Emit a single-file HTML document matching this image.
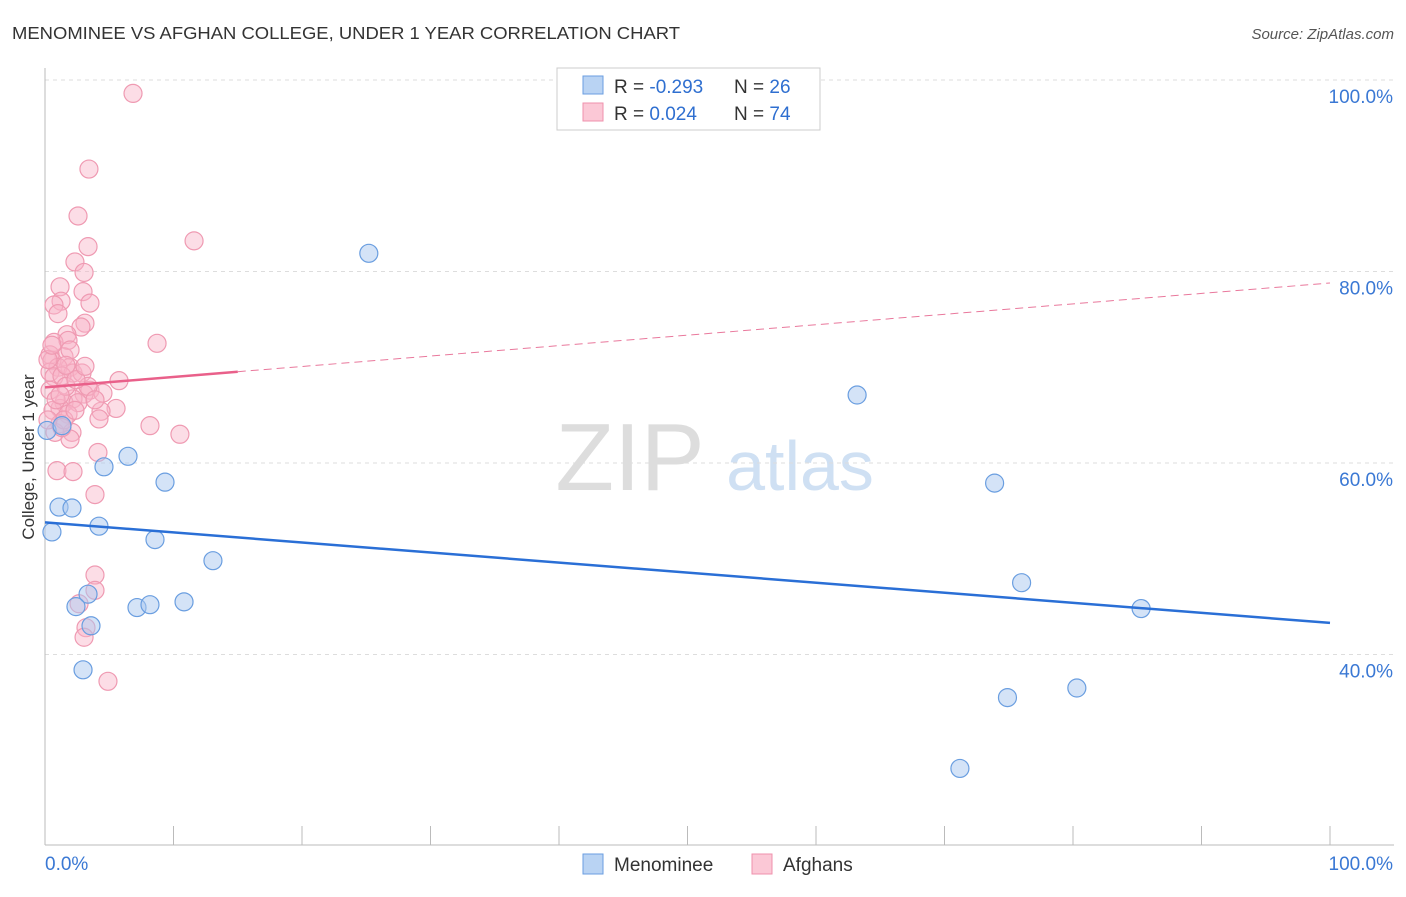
<!DOCTYPE html>
<html><head><meta charset="utf-8"><style>
body{margin:0;background:#fff;font-family:"Liberation Sans",sans-serif;}
svg text{font-family:"Liberation Sans",sans-serif;}
</style></head><body>
<svg id="chart" width="1406" height="892">
<text x="12" y="39" font-size="17.5" fill="#333" textLength="668" lengthAdjust="spacingAndGlyphs">MENOMINEE VS AFGHAN COLLEGE, UNDER 1 YEAR CORRELATION CHART</text>
<text x="1394" y="39" font-size="15" fill="#555" text-anchor="end" font-style="italic">Source: ZipAtlas.com</text>
<text x="630" y="490" font-size="96" fill="#ddd" font-family="Liberation Serif" text-anchor="middle">ZIP</text>
<text x="800" y="490" font-size="70" fill="#cfe0f3" text-anchor="middle">atlas</text>
<g id="grid"></g><g id="axes"></g><g id="marks"></g>
<text transform="translate(34,457) rotate(-90)" font-size="17" fill="#333" text-anchor="middle">College, Under 1 year</text>
<g>
<rect x="557" y="68" width="263" height="62" fill="#fff" stroke="#ccc"/>
<rect x="583" y="76" width="20" height="18" fill="#b9d3f3" stroke="#6a9ee0"/>
<rect x="583" y="103" width="20" height="18" fill="#fbc8d6" stroke="#ef91ac"/>
<text x="614" y="93" font-size="19" fill="#333">R = <tspan fill="#2f6fd0">-0.293</tspan></text>
<text x="734" y="93" font-size="19" fill="#333">N = <tspan fill="#2f6fd0">26</tspan></text>
<text x="614" y="120" font-size="19" fill="#333">R = <tspan fill="#2f6fd0"> 0.024</tspan></text>
<text x="734" y="120" font-size="19" fill="#333">N = <tspan fill="#2f6fd0">74</tspan></text>
</g>
<g>
<rect x="583" y="854" width="20" height="20" fill="#b9d3f3" stroke="#6a9ee0"/>
<text x="614" y="871" font-size="19" fill="#333">Menominee</text>
<rect x="752" y="854" width="20" height="20" fill="#fbc8d6" stroke="#ef91ac"/>
<text x="783" y="871" font-size="19" fill="#333">Afghans</text>
</g>
</svg>
<script>
const yTicks=[40,60,80,100];
const blueX=[0.54,1.09,2.10,6.46,4.59,9.34,4.20,8.56,13.07,3.35,2.41,7.16,8.17,10.82,3.58,2.96,25.2,63.2,73.9,76.0,85.3,80.3,74.9,71.2,0.16,1.32];
const blueY=[52.8,55.4,55.3,60.7,59.6,58.0,53.4,52.0,49.8,46.3,45.0,44.9,45.2,45.5,43.0,38.4,81.9,67.1,57.9,47.5,44.8,36.5,35.5,28.1,63.4,63.9];
const pinkX=[6.85,3.42,2.57,11.6,3.35,2.33,3.04,1.17,2.96,1.25,3.50,0.70,1.01,3.11,2.80,1.71,8.72,0.70,1.79,1.48,0.39,0.54,1.95,1.01,2.18,2.88,0.39,0.70,5.76,1.32,3.50,4.51,3.04,2.18,5.53,1.48,2.57,1.17,0.62,4.36,1.79,4.20,8.17,10.5,1.17,2.10,0.78,1.95,4.12,0.93,2.18,3.89,3.89,3.89,2.65,3.19,3.04,4.90,0.39,0.86,1.48,1.32,3.35,1.63,2.41,0.23,0.54,0.23,3.89,2.33,3.11,1.95,1.17,1.63];
const pinkY=[98.6,90.7,85.8,83.2,82.6,81.0,79.9,78.4,77.9,76.9,76.7,76.5,75.6,74.6,74.2,73.4,72.5,72.6,72.8,71.1,71.3,70.7,70.0,70.0,69.4,69.4,69.5,69.0,68.6,69.1,67.6,67.3,67.2,66.7,65.7,66.3,66.3,65.7,65.5,65.4,65.1,64.6,63.9,63.0,64.1,63.2,63.2,62.5,61.1,59.2,59.1,56.7,48.3,46.7,45.3,42.8,41.8,37.2,67.6,66.6,64.5,63.7,68.0,68.0,68.7,70.8,72.3,64.5,66.6,65.5,70.1,71.8,67.1,70.2];
const blueTrend=[53.8,43.3];
const pinkTrend=[67.9,78.8];
const NS='http://www.w3.org/2000/svg';
const X=v=>45+v*12.85, Y=v=>80+(100-v)*9.575;
function mk(t,a,p){const e=document.createElementNS(NS,t);for(const k in a)e.setAttribute(k,a[k]);document.getElementById(p).appendChild(e);return e;}
yTicks.forEach(t=>{
 const l=mk('line',{x1:45,x2:1394,y1:Y(t),y2:Y(t),stroke:'#ddd','stroke-dasharray':'4,4'},'grid');
 
 
 const tx=mk('text',{x:1393,y:Y(t)+23,'font-size':19,fill:'#3a78d4','text-anchor':'end'},'grid');tx.textContent=t.toFixed(1)+'%';
 
 
});
mk('line',{x1:45,x2:45,y1:68,y2:845,stroke:'#bbb'},'axes');
mk('line',{x1:45,x2:1394,y1:845,y2:845,stroke:'#bbb'},'axes');
for(let i=0;i<=10;i++){mk('line',{x1:X(i*10),x2:X(i*10),y1:826,y2:845,stroke:'#bbb'},'axes');}
let t0=mk('text',{x:45,y:870,'font-size':19,fill:'#3a78d4'},'axes');t0.textContent='0.0%';


let t1=mk('text',{x:1393,y:870,'font-size':19,fill:'#3a78d4','text-anchor':'end'},'axes');t1.textContent='100.0%';


pinkX.forEach((x,i)=>{const c=mk('circle',{cx:X(x),cy:Y(pinkY[i]),r:9,fill:'rgba(248,180,200,0.45)',stroke:'#ef9ab2','stroke-width':1.2},'marks');
 
 });
blueX.forEach((x,i)=>{const c=mk('circle',{cx:X(x),cy:Y(blueY[i]),r:9,fill:'rgba(170,200,240,0.5)',stroke:'#6a9ee0','stroke-width':1.2},'marks');
 
 });
const pm=pinkTrend[0]+(pinkTrend[1]-pinkTrend[0])*0.15;
let pd=mk('line',{x1:X(15),y1:Y(pm),x2:X(100),y2:Y(pinkTrend[1]),stroke:'#e9789c','stroke-width':1,'stroke-dasharray':'8,5'},'marks');


let ps=mk('line',{x1:X(0),y1:Y(pinkTrend[0]),x2:X(15),y2:Y(pm),stroke:'#e9608a','stroke-width':2.5},'marks');


let bl=mk('line',{x1:X(0),y1:Y(blueTrend[0]),x2:X(100),y2:Y(blueTrend[1]),stroke:'#2a6fd6','stroke-width':2.5},'marks');


</script>
</body></html>
